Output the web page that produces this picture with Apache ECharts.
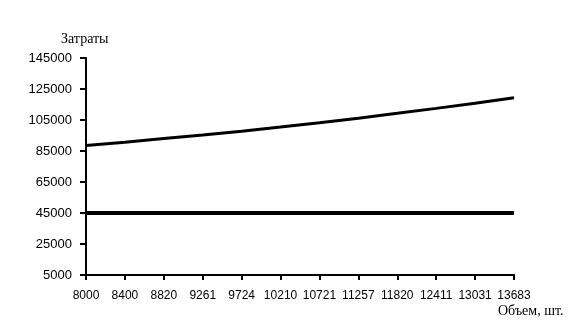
<!DOCTYPE html>
<html>
<head>
<meta charset="utf-8">
<script src="https://cdn.jsdelivr.net/npm/echarts@6/dist/echarts.min.js"></script>
<style>html,body{margin:0;padding:0;background:#fff}#c{width:580px;height:330px}</style>
</head>
<body>
<div id="c"></div>
<script>
const categories = ['8000','8400','8820','9261','9724','10210','10721','11257','11820','12411','13031','13683'];
const totalCosts = [88500, 90700, 93000, 95300, 97800, 100500, 103300, 106200, 109300, 112500, 115800, 119400];
const fixedCosts = [45000, 45000, 45000, 45000, 45000, 45000, 45000, 45000, 45000, 45000, 45000, 45000];
const yTicks = [5000, 25000, 45000, 65000, 85000, 105000, 125000, 145000];
const yTitle = 'Затраты';
const xTitle = 'Объем, шт.';

const chart = echarts.init(document.getElementById('c'), null, {renderer: 'canvas'});
chart.setOption({
  backgroundColor: '#fff',
  animation: false,
  grid: {left: 86, right: 66, top: 58, bottom: 55},
  xAxis: {
    type: 'category',
    data: categories,
    boundaryGap: false,
    axisLine: {lineStyle: {color: '#000', width: 2}},
    axisTick: {show: true, length: 5, lineStyle: {color: '#000', width: 2}},
    axisLabel: {color: '#000', fontFamily: 'Liberation Sans', fontSize: 12, margin: 15, interval: 0}
  },
  yAxis: {
    type: 'value',
    min: yTicks[0],
    max: yTicks[yTicks.length - 1],
    axisLine: {show: true, lineStyle: {color: '#000', width: 2}},
    axisTick: {show: true, length: 6, lineStyle: {color: '#000', width: 2}, customValues: yTicks},
    axisLabel: {color: '#000', fontFamily: 'Liberation Sans', fontSize: 13, margin: 14, customValues: yTicks,
      formatter: function (v) { return String(v); }},
    splitLine: {show: false}
  },
  graphic: [
    {type: 'text', left: 61, top: 32, style: {text: yTitle, font: '14px "Liberation Serif"', fill: '#000'}},
    {type: 'text', left: 498, top: 304, style: {text: xTitle, font: '14px "Liberation Serif"', fill: '#000'}}
  ],
  series: [
    {type: 'line', data: totalCosts, symbol: 'none', lineStyle: {color: '#000', width: 3}},
    {type: 'line', data: fixedCosts, symbol: 'none', lineStyle: {color: '#000', width: 4}}
  ]
});
</script>
</body>
</html>
